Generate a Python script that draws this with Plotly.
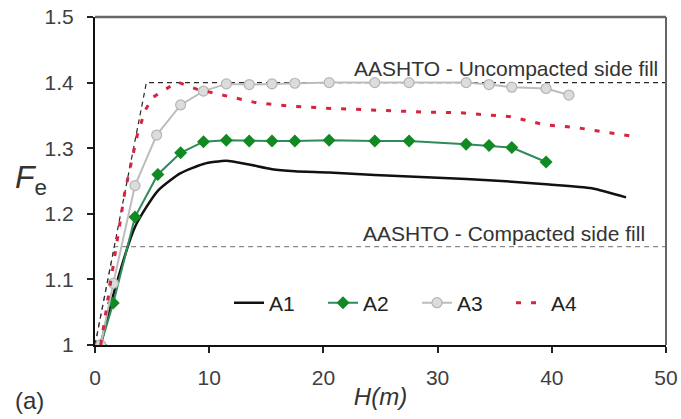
import plotly.graph_objects as go

# ---- data ----
a1_x = [0.5, 1.5, 3.5, 5.5, 7.5, 9.5, 11.5, 13.5, 15.5, 17.5, 20.5, 24.5, 27.5, 32.5, 36.5, 39.5, 43.5, 46.5]
a1_y = [1.0, 1.07, 1.18, 1.235, 1.262, 1.276, 1.281, 1.275, 1.268, 1.265, 1.263, 1.259, 1.257, 1.253, 1.249, 1.245, 1.239, 1.225]

a2_x = [0.5, 1.6, 3.5, 5.5, 7.5, 9.5, 11.5, 13.5, 15.5, 17.5, 20.5, 24.5, 27.5, 32.5, 34.5, 36.5, 39.5]
a2_y = [1.0, 1.064, 1.195, 1.26, 1.293, 1.31, 1.312, 1.311, 1.311, 1.311, 1.312, 1.311, 1.311, 1.306, 1.304, 1.301, 1.279]

a3_x = [0.5, 1.6, 3.5, 5.4, 7.5, 9.5, 11.5, 13.5, 15.5, 17.5, 20.5, 24.5, 27.5, 32.5, 34.5, 36.5, 39.5, 41.5]
a3_y = [1.0, 1.094, 1.243, 1.32, 1.366, 1.387, 1.398, 1.397, 1.398, 1.399, 1.40, 1.40, 1.40, 1.40, 1.397, 1.393, 1.391, 1.381]

a4_x = [0.5, 2.6, 3.7, 4.4, 5.1, 7.2, 8.9, 11.5, 14.2, 17.3, 20.2, 24.6, 28.9, 32.0, 36.4, 39.3, 42.3, 46.8]
a4_y = [1.0, 1.232, 1.32, 1.358, 1.378, 1.401, 1.39, 1.38, 1.369, 1.364, 1.361, 1.358, 1.355, 1.354, 1.348, 1.336, 1.331, 1.319]

unc_x = [0, 4.5, 50]
unc_y = [1.0, 1.4, 1.4]
comp_x = [0, 1.7, 50]
comp_y = [1.0, 1.15, 1.15]

x_ticks = [0, 10, 20, 30, 40, 50]
y_ticks = [1.0, 1.1, 1.2, 1.3, 1.4, 1.5]
y_tick_text = ["1", "1.1", "1.2", "1.3", "1.4", "1.5"]

fig = go.Figure()

fig.add_trace(go.Scatter(x=comp_x, y=comp_y, mode="lines", showlegend=False,
                         line=dict(color="#8a8a8a", width=1.2, dash="5px,4px")))
fig.add_trace(go.Scatter(x=unc_x, y=unc_y, mode="lines", showlegend=False,
                         line=dict(color="#2a2a2a", width=1.2, dash="5px,4px")))

fig.add_trace(go.Scatter(x=a1_x, y=a1_y, mode="lines", name="A1",
                         line=dict(color="#111111", width=2.5, shape="spline", smoothing=0.6)))
fig.add_trace(go.Scatter(x=a2_x, y=a2_y, mode="lines+markers", name="A2",
                         line=dict(color="#2e8b5a", width=2),
                         marker=dict(symbol="diamond", size=10, color="#128a24")))
fig.add_trace(go.Scatter(x=a3_x, y=a3_y, mode="lines+markers", name="A3",
                         line=dict(color="#bdbdbd", width=2),
                         marker=dict(symbol="circle", size=10, color="#dcdcdc",
                                     line=dict(color="#b5b5b5", width=1.2))))
fig.add_trace(go.Scatter(x=a4_x, y=a4_y, mode="lines", name="A4",
                         line=dict(color="#d8233f", width=3, dash="5px,10px")))

font_family = "Liberation Sans, Arial, sans-serif"

fig.update_layout(
    width=681, height=419,
    margin=dict(l=95, r=15, t=17, b=74),
    paper_bgcolor="white", plot_bgcolor="white",
    font=dict(family=font_family, color="#333333"),
    showlegend=True,
    legend=dict(orientation="h", x=0.2347, y=0.128, xanchor="left", yanchor="middle",
                font=dict(size=21, color="#222222"), bgcolor="rgba(0,0,0,0)",
                entrywidth=49, entrywidthmode="pixels", itemwidth=30),
    xaxis=dict(range=[0, 50], tickvals=x_ticks, ticks="outside", ticklen=6, tickwidth=1.5,
               tickcolor="#222", showline=True, linecolor="#111", linewidth=2, mirror=False,
               showgrid=False, zeroline=False, tickfont=dict(size=21, color="#404040"),
               ticklabelstandoff=7, automargin=False, ticklabeloverflow="allow",
               title=dict(text="<i>H(m)</i>", font=dict(size=24, color="#333333"), standoff=0)),
    yaxis=dict(range=[1.0, 1.5], tickvals=y_ticks, ticktext=y_tick_text, ticks="outside",
               ticklen=6, tickwidth=1.5, tickcolor="#222", showline=True, linecolor="#111",
               linewidth=2, showgrid=False, zeroline=False, automargin=False,
               ticklabeloverflow="allow",
               tickfont=dict(size=21, color="#404040"), ticklabelstandoff=9),
)

# frame top and right
fig.add_shape(type="line", xref="paper", yref="paper", x0=0, x1=1, y0=1, y1=1,
              line=dict(color="#666666", width=2.5))
fig.add_shape(type="line", xref="paper", yref="paper", x0=1, x1=1, y0=0, y1=1,
              line=dict(color="#666666", width=2))

fig.add_annotation(x=49.5, y=1.4, xref="x", yref="y", text="AASHTO - Uncompacted side fill",
                   showarrow=False, xanchor="right", yanchor="bottom", yshift=1,
                   font=dict(size=21, color="#333333"))
fig.add_annotation(x=48.34, y=1.15, xref="x", yref="y", text="AASHTO - Compacted side fill",
                   showarrow=False, xanchor="right", yanchor="bottom", yshift=0,
                   font=dict(size=21, color="#333333"))

fig.add_annotation(xref="paper", yref="paper", x=-0.1436, y=0.506, xanchor="left", yanchor="middle",
                   text="<i>F</i><sub>e</sub>", showarrow=False,
                   font=dict(size=32, color="#333333"))
fig.add_annotation(xref="paper", yref="paper", x=-0.1436, y=-0.17, xanchor="left", yanchor="middle",
                   text="(a)", showarrow=False, font=dict(size=24, color="#333333"))

fig.write_html("out.html", config={"displayModeBar": False},
               post_script="document.body.style.margin='0';document.body.style.overflow='hidden';")
